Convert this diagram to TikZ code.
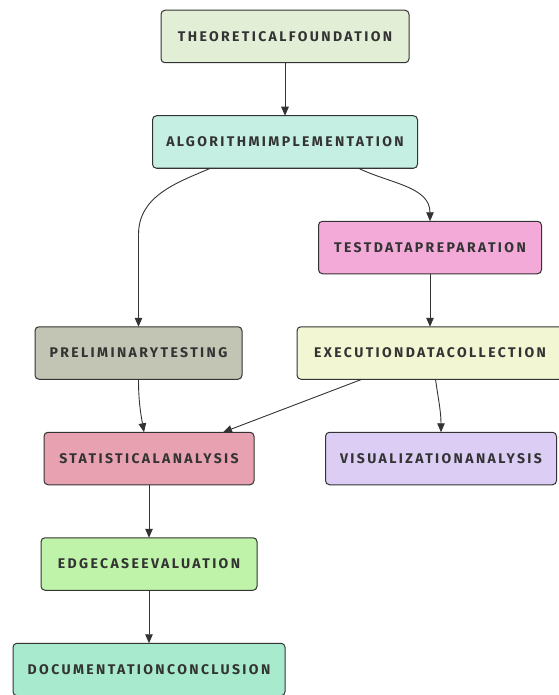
\documentclass[tikz,border=0pt]{standalone}
\usepackage{fontspec}
\usepackage{tikz}
\usetikzlibrary{positioning,arrows.meta}

\newfontfamily\boxfont[LetterSpace=17]{Fira Sans}

\definecolor{foundfill}{HTML}{E3EED6}
\definecolor{algofill}{HTML}{C4EFE2}
\definecolor{testfill}{HTML}{F4AAD9}
\definecolor{prelimfill}{HTML}{C2C5B3}
\definecolor{execfill}{HTML}{F2F6D3}
\definecolor{statfill}{HTML}{E8A1B0}
\definecolor{visfill}{HTML}{DCCDF5}
\definecolor{edgefill}{HTML}{BEF3A9}
\definecolor{docfill}{HTML}{A7EACD}
\definecolor{inkgray}{HTML}{333333}

\tikzset{
  stepbox/.style={draw=inkgray, line width=1pt, rectangle, rounded corners=4pt,
    minimum height=52.5pt, inner sep=0pt, outer sep=0pt, text=inkgray,
    font=\boxfont\bfseries\fontsize{14}{16}\selectfont},
  flow/.style={draw=inkgray, line width=0.9pt, -{Triangle[length=9pt,width=7.5pt]}}
}

\begin{document}
\begin{tikzpicture}[x=1pt, y=-1pt, node distance=53pt and 55pt]
\useasboundingbox (0,0) rectangle (558,695);

% Nodes - top to bottom
\node[stepbox, fill=foundfill, minimum width=248pt] (found) at (285,36.5) {THEORETICALFOUNDATION};
\node[stepbox, fill=algofill, minimum width=265pt, below=of found] (algo) {ALGORITHMIMPLEMENTATION};
\node[stepbox, fill=testfill, minimum width=223pt, below=of algo, xshift=145pt] (testprep) {TESTDATAPREPARATION};
\node[stepbox, fill=execfill, minimum width=266pt, below=of testprep] (exec) {EXECUTIONDATACOLLECTION};
\node[stepbox, fill=prelimfill, minimum width=207pt, left=of exec] (prelim) {PRELIMINARYTESTING};
\node[stepbox, fill=statfill, minimum width=210pt, below=of prelim, xshift=10.5pt] (stat) {STATISTICALANALYSIS};
\node[stepbox, fill=visfill, minimum width=231pt, below=of exec, xshift=11pt] (vis) {VISUALIZATIONANALYSIS};
\node[stepbox, fill=edgefill, minimum width=216pt, below=of stat] (edgecase) {EDGECASEEVALUATION};
\node[stepbox, fill=docfill, minimum width=272pt, below=of edgecase] (doc) {DOCUMENTATIONCONCLUSION};

\coordinate (bendL) at ([yshift=92pt]prelim.north);

% Arrows
\draw[flow] (found) -- (algo);
\draw[flow, -] ([xshift=-74.5pt]algo.south) to[out=-157, in=90] (bendL);
\draw[flow] (bendL) -- (prelim.north);
\draw[flow] ([xshift=73.5pt]algo.south) to[out=-26, in=90] (testprep.north);
\draw[flow] (testprep) -- (exec);
\draw[flow] (prelim.south) to[out=-90, in=100] ([xshift=-5pt]stat.north);
\draw[flow] ([xshift=-68pt]exec.south) -- ([xshift=74pt]stat.north);
\draw[flow] ([xshift=5.5pt]exec.south) to[out=-82, in=90] (vis.north);
\draw[flow] (stat) -- (edgecase);
\draw[flow] (edgecase) -- (doc);
\end{tikzpicture}
\end{document}
